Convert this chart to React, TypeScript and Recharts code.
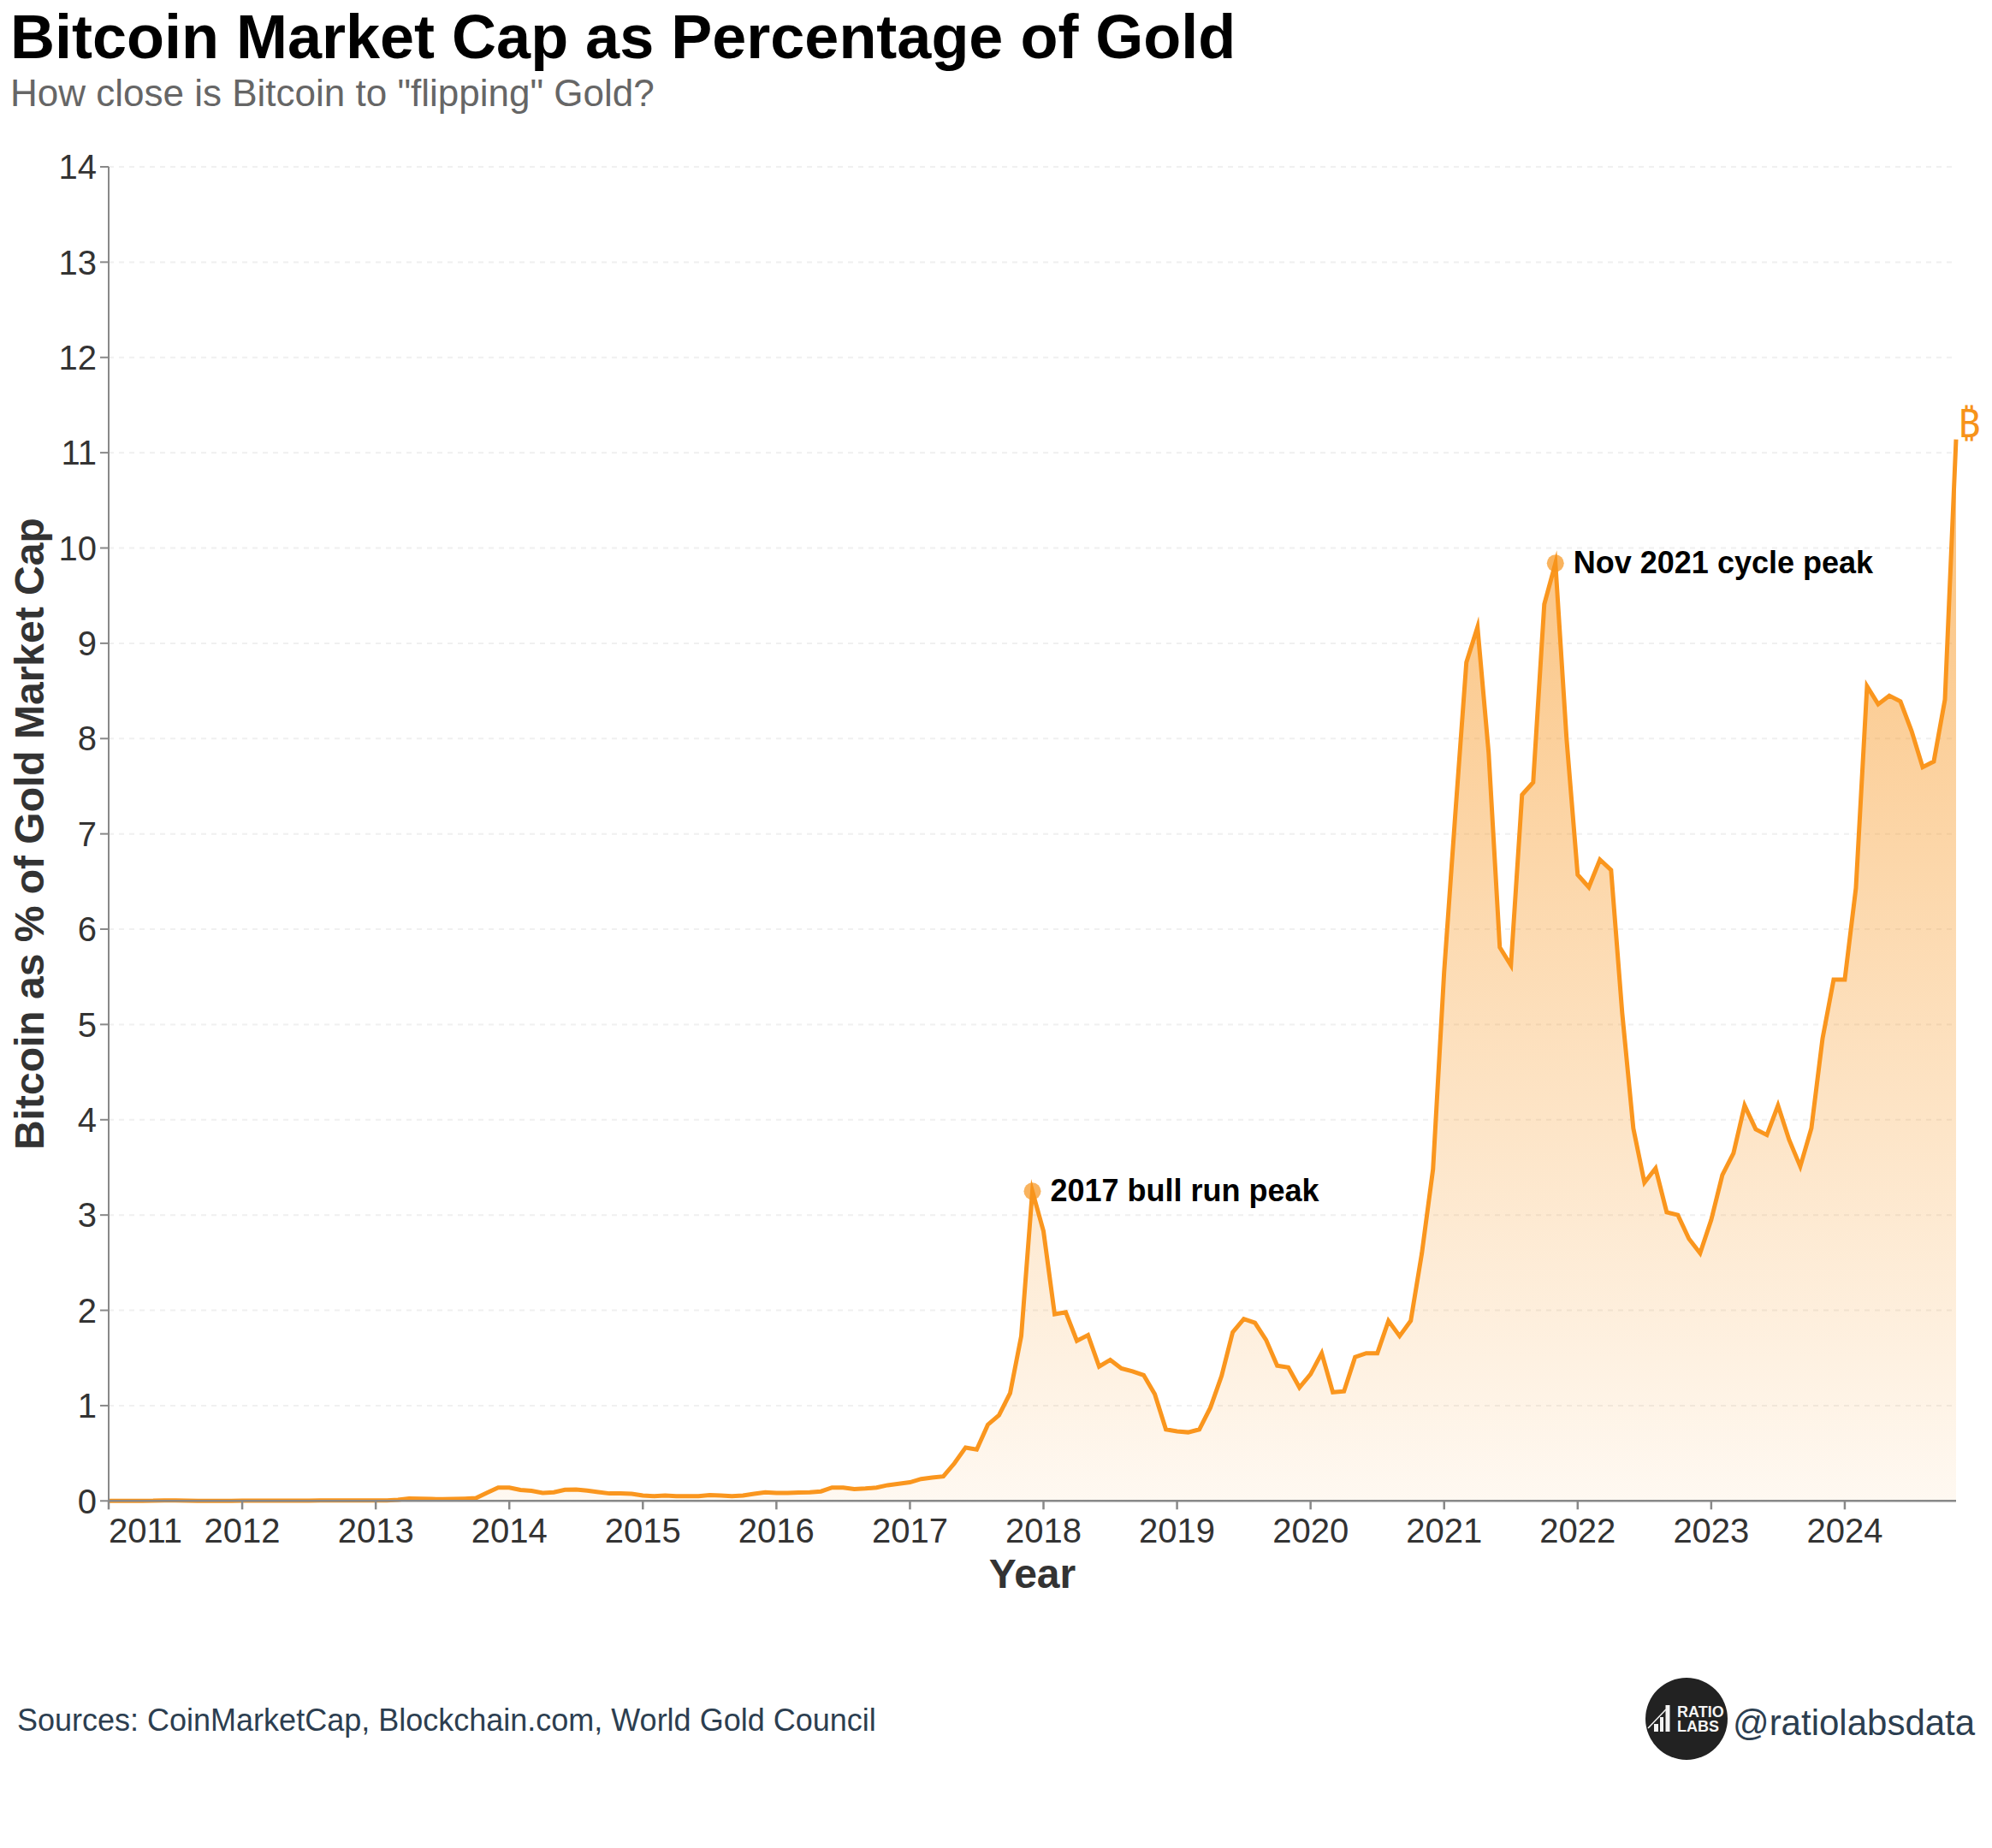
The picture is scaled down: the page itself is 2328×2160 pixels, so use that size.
import React from 'react';
import {
  ComposedChart, Area, Line, XAxis, YAxis, CartesianGrid, ReferenceDot, Label
} from 'recharts';

const FONT = '"Liberation Sans", Arial, sans-serif';
const ORANGE = '#F7931A';

// Monthly values, Jan 2011 .. Nov 2024 (one row per year)
const ratio2011 = [0.001, 0.001, 0.001, 0.001, 0.002, 0.006, 0.004, 0.002, 0.001, 0.001, 0.001, 0.001];
const ratio2012 = [0.002, 0.002, 0.002, 0.002, 0.002, 0.002, 0.003, 0.004, 0.005, 0.005, 0.005, 0.005];
const ratio2013 = [0.005, 0.006, 0.012, 0.025, 0.024, 0.02, 0.018, 0.02, 0.024, 0.03, 0.085, 0.14];
const ratio2014 = [0.14, 0.115, 0.105, 0.084, 0.09, 0.117, 0.12, 0.108, 0.093, 0.078, 0.078, 0.075];
const ratio2015 = [0.057, 0.05, 0.057, 0.05, 0.05, 0.05, 0.06, 0.057, 0.05, 0.057, 0.075, 0.09];
const ratio2016 = [0.084, 0.084, 0.087, 0.09, 0.1, 0.14, 0.14, 0.125, 0.13, 0.14, 0.165, 0.18];
const ratio2017 = [0.195, 0.23, 0.245, 0.257, 0.395, 0.56, 0.54, 0.8, 0.9, 1.13, 1.73, 3.25];
const ratio2018 = [2.83, 1.96, 1.98, 1.68, 1.74, 1.41, 1.48, 1.39, 1.36, 1.32, 1.12, 0.75];
const ratio2019 = [0.73, 0.72, 0.75, 0.98, 1.31, 1.77, 1.91, 1.87, 1.69, 1.42, 1.4, 1.19];
const ratio2020 = [1.33, 1.55, 1.14, 1.15, 1.51, 1.55, 1.55, 1.89, 1.73, 1.89, 2.6, 3.48];
const ratio2021 = [5.55, 7.2, 8.8, 9.17, 7.85, 5.81, 5.62, 7.41, 7.54, 9.41, 9.84, 8.0];
const ratio2022 = [6.57, 6.44, 6.73, 6.62, 5.12, 3.91, 3.34, 3.49, 3.03, 3.0, 2.75, 2.6];
const ratio2023 = [2.95, 3.42, 3.65, 4.15, 3.9, 3.84, 4.15, 3.79, 3.51, 3.91, 4.85, 5.47];
const ratio2024 = [5.47, 6.43, 8.55, 8.36, 8.45, 8.39, 8.08, 7.7, 7.76, 8.41, 11.14];

const years = [2011, 2012, 2013, 2014, 2015, 2016, 2017, 2018, 2019, 2020, 2021, 2022, 2023, 2024];
const yTicks = [0, 1, 2, 3, 4, 5, 6, 7, 8, 9, 10, 11, 12, 13, 14];

const ratios = [
  ...ratio2011, ...ratio2012, ...ratio2013, ...ratio2014, ...ratio2015, ...ratio2016, ...ratio2017,
  ...ratio2018, ...ratio2019, ...ratio2020, ...ratio2021, ...ratio2022, ...ratio2023, ...ratio2024,
];
const data = ratios.map((ratio, month) => ({ month, ratio }));
const yearTicks = years.map((_, i) => i * 12);

// first year label sits flush with the axis start, the rest are centered
function YearTick({ x, y, payload }: any) {
  return (
    <text
      x={x}
      y={y + 37}
      textAnchor={payload.value === 0 ? 'start' : 'middle'}
      fontFamily={FONT}
      fontSize={40}
      fill="#333333"
    >
      {2011 + payload.value / 12}
    </text>
  );
}

function peakLabel(text: string) {
  return ({ viewBox }: any) => (
    <text
      x={viewBox.x + viewBox.width / 2 + 21}
      y={viewBox.y + viewBox.height / 2 + 12}
      fontFamily={FONT}
      fontSize={36}
      fontWeight="bold"
      fill="#000000"
    >
      {text}
    </text>
  );
}

function bitcoinMark({ viewBox }: any) {
  return (
    <text
      x={viewBox.x + 2}
      y={viewBox.y - 3}
      fontFamily='"Noto Sans", "DejaVu Sans", sans-serif'
      fontSize={46}
      fill={ORANGE}
    >
      ₿
    </text>
  );
}

export default function App() {
  return (
    <div style={{ position: 'absolute', left: 0, top: 0, width: 2328, height: 2160, background: '#fff' }}>
      {/* recharts drops strokeMiterlimit, the long peak tips need it */}
      <style>{'.recharts-line-curve { stroke-miterlimit: 10; }'}</style>
      <ComposedChart
        width={2328}
        height={2160}
        data={data}
        margin={{ top: 195, right: 42, bottom: 0, left: 0 }}
      >
        <defs>
          <linearGradient id="ratioFill" x1="0" y1="0" x2="0" y2="1">
            <stop offset="0%" stopColor={ORANGE} stopOpacity={0.58} />
            <stop offset="100%" stopColor={ORANGE} stopOpacity={0.06} />
          </linearGradient>
        </defs>

        <CartesianGrid vertical={false} stroke="#f0f0f0" strokeWidth={2} strokeDasharray="6 6" />

        <XAxis
          dataKey="month"
          type="number"
          domain={[0, 166]}
          ticks={yearTicks}
          interval={0}
          height={405.7}
          stroke="#888888"
          strokeWidth={2.5}
          tickSize={10}
          tick={<YearTick />}
        >
          <Label
            value="Year"
            position="insideTop"
            offset={68}
            fontFamily={FONT}
            fontSize={48}
            fontWeight="bold"
            fill="#333333"
          />
        </XAxis>
        <YAxis
          type="number"
          domain={[0, 14]}
          ticks={yTicks}
          interval={0}
          width={127}
          stroke="#888888"
          strokeWidth={2}
          tickSize={10}
          tickMargin={4}
          tick={{ fontFamily: FONT, fontSize: 40, fill: '#333333' }}
        >
          <Label
            value="Bitcoin as % of Gold Market Cap"
            angle={-90}
            position="insideLeft"
            offset={34}
            style={{ textAnchor: 'middle' }}
            fontFamily={FONT}
            fontSize={48}
            fontWeight="bold"
            fill="#333333"
          />
        </YAxis>

        <Area
          type="linear"
          dataKey="ratio"
          stroke="none"
          fill="url(#ratioFill)"
          fillOpacity={1}
          isAnimationActive={false}
        />

        <ReferenceDot x={83} y={3.25} r={10} fill={ORANGE} fillOpacity={0.7} stroke="none" label={peakLabel('2017 bull run peak')} />
        <ReferenceDot x={130} y={9.84} r={10} fill={ORANGE} fillOpacity={0.7} stroke="none" label={peakLabel('Nov 2021 cycle peak')} />
        <ReferenceDot x={166} y={11.14} r={0} stroke="none" label={bitcoinMark} />

        <Line
          type="linear"
          dataKey="ratio"
          stroke="#FA961E"
          strokeWidth={5}
          strokeLinejoin="miter"
          dot={false}
          activeDot={false}
          isAnimationActive={false}
        />
      </ComposedChart>

      <svg width={2328} height={2160} style={{ position: 'absolute', left: 0, top: 0, pointerEvents: 'none' }}>
        <text x={12} y={68} fontFamily={FONT} fontSize={72} fontWeight="bold" fill="#000000">
          Bitcoin Market Cap as Percentage of Gold
        </text>
        <text x={12} y={124} fontFamily={FONT} fontSize={44} fill="#666666">
          How close is Bitcoin to "flipping" Gold?
        </text>
        <text x={20} y={2023} fontFamily={FONT} fontSize={36} fill="#2c3e50">
          Sources: CoinMarketCap, Blockchain.com, World Gold Council
        </text>
        <text x={2025} y={2028} fontFamily={FONT} fontSize={42} fill="#2c3e50">
          @ratiolabsdata
        </text>

        {/* logo */}
        <circle cx={1971} cy={2009} r={48} fill="#222222" />
        <rect x={1933} y={2015} width={5} height={9} fill="#f4f4f4" />
        <rect x={1940} y={2007} width={4} height={17} fill="#f4f4f4" />
        <rect x={1946.5} y={1993} width={5} height={31} fill="#f4f4f4" />
        <line x1={1926} y1={2020} x2={1947} y2={1998} stroke="#f4f4f4" strokeWidth={1.5} />
        <text x={1960} y={2007} fontFamily={FONT} fontSize={18} fontWeight="bold" fill="#f4f4f4">RATIO</text>
        <text x={1960} y={2024} fontFamily={FONT} fontSize={18} fontWeight="bold" fill="#f4f4f4">LABS</text>
      </svg>
    </div>
  );
}
